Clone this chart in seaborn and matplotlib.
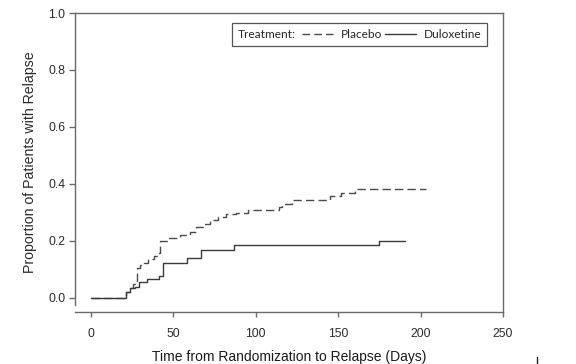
import numpy as np
import pandas as pd
import matplotlib
matplotlib.use("Agg")
import matplotlib.pyplot as plt
import seaborn as sns
from matplotlib.lines import Line2D
from matplotlib.offsetbox import HPacker

# ---- data ----
placebo_days = [0, 21, 23.5, 25.5, 28, 30, 32, 34.5, 38.5, 40.5, 42, 47, 54, 60, 64,
                68, 72, 77, 82, 88, 95.5, 114, 116, 122, 145, 152, 160, 203]
placebo_prop = [0, 0.020, 0.035, 0.050, 0.105, 0.115, 0.121, 0.135, 0.148, 0.156, 0.200,
                0.209, 0.220, 0.232, 0.250, 0.260, 0.273, 0.285, 0.294, 0.299, 0.308,
                0.318, 0.328, 0.343, 0.358, 0.367, 0.382, 0.382]
dulox_days = [0, 21, 23.7, 27, 29.4, 33.8, 41, 43.5, 58, 66.8, 87, 174.5, 190.5]
dulox_prop = [0, 0.021, 0.033, 0.039, 0.056, 0.065, 0.075, 0.122, 0.140, 0.166, 0.185,
              0.199, 0.199]
x_ticks = [0, 50, 100, 150, 200, 250]
y_ticks = [0.0, 0.2, 0.4, 0.6, 0.8, 1.0]
x_label = "Time from Randomization to Relapse (Days)"
y_label = "Proportion of Patients with Relapse"

sns.set_style("white")
plt.rcParams["font.family"] = ["Liberation Sans", "DejaVu Sans"]

fig = plt.figure(figsize=(5.76, 3.64), dpi=100)
ax = fig.add_axes([75 / 576, 1 - 312 / 364, (503 - 75) / 576, (312 - 13) / 364])

line_color = "#3a3a3a"
dash = (0, (6, 3))
sns.lineplot(x=placebo_days, y=placebo_prop, ax=ax, drawstyle="steps-post",
             color="#4a4a4a", linewidth=1.0, dashes=False, linestyle=dash,
             label="Placebo", legend=False)
sns.lineplot(x=dulox_days, y=dulox_prop, ax=ax, drawstyle="steps-post",
             color=line_color, linewidth=1.0, label="Duloxetine", legend=False)

ax.set_xlim(-9.7, 250)
ax.set_ylim(-0.05, 1.0)
ax.set_xticks(x_ticks)
ax.set_yticks(y_ticks)
ax.set_xticklabels([str(v) for v in x_ticks])
ax.set_yticklabels([f"{v:.1f}" for v in y_ticks])

spine_c = "#6a6a6a"
for s in ax.spines.values():
    s.set_color(spine_c)
    s.set_linewidth(1.0)
    s.set_visible(True)
ax.spines["left"].set_bounds(-0.025, 1.0)

ax.tick_params(axis="both", direction="out", length=4, width=1.0, color=spine_c,
               labelsize=8.7, labelcolor="#2a2a2a", pad=3)
ax.tick_params(axis="x", length=3.5, pad=8)
ax.tick_params(bottom=True, left=True, top=False, right=False)

ax.set_xlabel(x_label, fontsize=10, color="#1a1a1a", labelpad=7)
ax.set_ylabel(y_label, fontsize=10.2, color="#2a2a2a", labelpad=8)

handles = [Line2D([], [], color="#4a4a4a", linewidth=1.0, linestyle=(0, (5.5, 3))),
           Line2D([], [], color=line_color, linewidth=1.0)]
leg = ax.legend(handles, ["Placebo", "Duloxetine"], ncol=2, title="Treatment:",
                loc="upper right", bbox_to_anchor=(0.963, 0.967),
                frameon=True, fancybox=False, shadow=False, framealpha=1,
                edgecolor="#555555", prop={"family": "Lato", "size": 8.6},
                title_fontproperties={"family": "Lato", "size": 8.6},
                handlelength=2.6, handletextpad=0.6, columnspacing=0.3,
                borderpad=0.5, borderaxespad=0)
leg.get_frame().set_linewidth(0.9)
# put the title to the left of the entries, on one row
fs = leg._fontsize
newbox = HPacker(pad=leg.borderpad * fs, sep=0.5 * fs, align="center",
                 children=[leg._legend_title_box, leg._legend_handle_box])
newbox.set_figure(fig)
newbox.axes = ax
newbox.set_offset(leg._findoffset)
leg._legend_box = newbox

fig.add_artist(Line2D([537 / 576, 537 / 576], [0, 7 / 364], color="#222222",
                      linewidth=1.0, transform=fig.transFigure))

fig.savefig("out.png", dpi=100)
